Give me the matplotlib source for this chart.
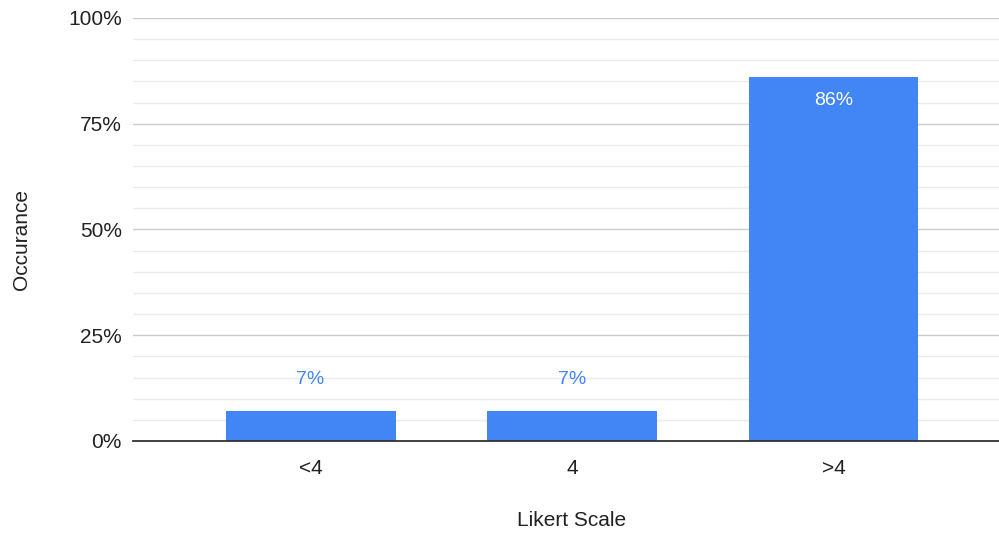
import matplotlib
matplotlib.use("Agg")
import matplotlib.pyplot as plt
from matplotlib.ticker import FixedLocator, PercentFormatter

plt.rcParams["font.family"] = ["Liberation Sans", "DejaVu Sans"]

categories = ["<4", "4", ">4"]
shares = [7, 7, 86]  # percent of responses
bar_labels = ["7%", "7%", "86%"]

BLUE = "#4285F4"
TEXT = "#222222"

fig = plt.figure(figsize=(9.99, 5.36), dpi=100)
ax = fig.add_axes([133 / 999, 1 - 441 / 536, 866 / 999, 423 / 536])

x = list(range(len(categories)))
ax.bar(x, shares, width=0.65, color=BLUE, zorder=3)

# value labels: inside the bar when it is tall enough, above it otherwise
for xi, val, lab in zip(x, shares, bar_labels):
    if val > 50:
        ax.annotate(lab, (xi, val), xytext=(0, -23), textcoords="offset pixels",
                    ha="center", va="center", color="white", fontsize=14, zorder=4)
    else:
        ax.annotate(lab, (xi, val), xytext=(0, 32), textcoords="offset pixels",
                    ha="center", va="center", color=BLUE, fontsize=14, zorder=4)

ax.set_xlim(-0.679, 2.633)
ax.set_ylim(0, 100)
ax.yaxis.set_major_locator(FixedLocator([0, 25, 50, 75, 100]))
ax.yaxis.set_minor_locator(FixedLocator([v for v in range(5, 100, 5) if v % 25]))
ax.yaxis.set_major_formatter(PercentFormatter(decimals=0))
ax.set_xticks(x)
ax.set_xticklabels(categories)

ax.grid(axis="y", which="major", color="#cccccc", linewidth=1.0, zorder=1)
ax.grid(axis="y", which="minor", color="#ebebeb", linewidth=1.0, zorder=1)
ax.tick_params(axis="y", which="both", length=0, pad=8, labelsize=15, labelcolor=TEXT)
ax.tick_params(axis="x", length=0, pad=13, labelsize=15, labelcolor=TEXT)

for side in ["left", "right", "top"]:
    ax.spines[side].set_visible(False)
ax.spines["bottom"].set_color("#333333")
ax.spines["bottom"].set_linewidth(1.3)
ax.spines["bottom"].set_zorder(5)

fig.text(22 / 999, 1 - 240 / 536, "Occurance", rotation=90, ha="center", va="center",
         fontsize=15, color=TEXT)
fig.text(572 / 999, 1 - 520 / 536, "Likert Scale", ha="center", va="center",
         fontsize=15, color=TEXT)

fig.savefig("out.png", dpi=100)
